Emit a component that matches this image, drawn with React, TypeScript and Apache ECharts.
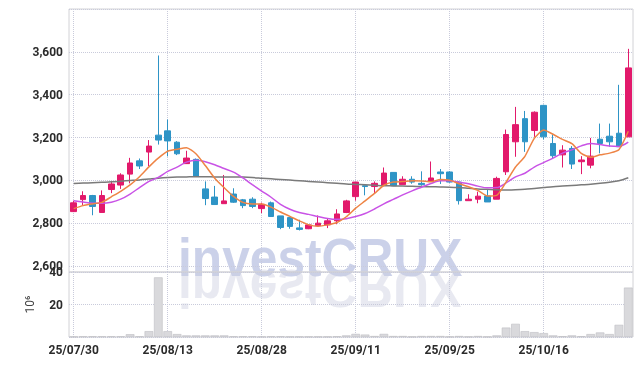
import React, { useEffect, useRef } from 'react';
import * as echarts from 'echarts';

const dates = [
  '25/07/30','25/07/31','25/08/01','25/08/04','25/08/05','25/08/06','25/08/07','25/08/08','25/08/11','25/08/12',
  '25/08/13','25/08/14','25/08/18','25/08/19','25/08/20','25/08/21','25/08/22','25/08/25','25/08/26','25/08/27',
  '25/08/28','25/08/29','25/09/01','25/09/02','25/09/03','25/09/04','25/09/05','25/09/08','25/09/09','25/09/10',
  '25/09/11','25/09/12','25/09/15','25/09/16','25/09/17','25/09/18','25/09/19','25/09/22','25/09/23','25/09/24',
  '25/09/25','25/09/26','25/09/29','25/09/30','25/10/01','25/10/02','25/10/10','25/10/13','25/10/14','25/10/15',
  '25/10/16','25/10/17','25/10/20','25/10/21','25/10/22','25/10/23','25/10/24','25/10/27','25/10/28','25/10/29',
];

const opens = [
  2854, 2910, 2929, 2850, 2957, 2978, 3029, 3091, 3132, 3211,
  3231, 3178, 3078, 3098, 2960, 2922, 2891, 2936, 2909, 2912,
  2868, 2895, 2834, 2826, 2778, 2774, 2788, 2792, 2811, 2850,
  2924, 2975, 2971, 2978, 3037, 2980, 3005, 2986, 2995, 3039,
  3039, 2992, 2905, 2912, 2927, 2912, 3040, 3180, 3288, 3233,
  3350, 3172, 3119, 3149, 3087, 3071, 3192, 3206, 3220, 3203,
];
const closes = [
  2895, 2929, 2878, 2929, 2983, 3025, 3081, 3067, 3160, 3188,
  3184, 3124, 3104, 3020, 2915, 2887, 2904, 2898, 2882, 2878,
  2888, 2831, 2780, 2785, 2771, 2792, 2800, 2811, 2843, 2904,
  2992, 2971, 2986, 3034, 2975, 3005, 2992, 2980, 3011, 3031,
  2992, 2905, 2912, 2926, 2899, 3009, 3214, 3260, 3180, 3318,
  3203, 3115, 3141, 3076, 3095, 3113, 3172, 3180, 3157, 3525,
];
const lows = [
  2852, 2885, 2837, 2850, 2940, 2960, 2986, 3053, 3067, 3167,
  3112, 3118, 3078, 3017, 2884, 2887, 2891, 2895, 2870, 2870,
  2847, 2831, 2772, 2774, 2766, 2772, 2784, 2777, 2795, 2847,
  2905, 2930, 2940, 2978, 2975, 2980, 2984, 2975, 2995, 2983,
  2989, 2887, 2905, 2893, 2899, 2912, 3025, 3110, 3133, 3203,
  3191, 3102, 3060, 3053, 3029, 3056, 3126, 3157, 3157, 3203,
];
const highs = [
  2905, 2949, 2932, 2953, 2994, 3033, 3105, 3102, 3188, 3583,
  3284, 3183, 3138, 3102, 2995, 2974, 3025, 2963, 2913, 2921,
  2896, 2901, 2834, 2828, 2816, 2795, 2836, 2820, 2865, 2909,
  2992, 2975, 2995, 3060, 3037, 3019, 3019, 3042, 3088, 3053,
  3042, 2995, 2935, 2947, 2955, 3017, 3237, 3343, 3324, 3322,
  3353, 3214, 3164, 3160, 3113, 3198, 3265, 3265, 3446, 3614,
];

const ma5 = [
  2868, 2882, 2890, 2897, 2923, 2949, 2979, 3017, 3063, 3104,
  3136, 3145, 3152, 3124, 3069, 3010, 2966, 2925, 2897, 2890,
  2890, 2875, 2852, 2832, 2811, 2792, 2786, 2792, 2803, 2830,
  2870, 2904, 2939, 2977, 2992, 2994, 2998, 2997, 2993, 3004,
  3001, 2984, 2970, 2953, 2927, 2930, 2992, 3062, 3112, 3196,
  3235, 3215, 3191, 3171, 3126, 3108, 3119, 3127, 3143, 3229,
];
const ma10 = [
  2905, 2899, 2893, 2893, 2898, 2912, 2936, 2966, 2995, 3014,
  3042, 3062, 3085, 3094, 3087, 3073, 3055, 3038, 3011, 2980,
  2950, 2921, 2888, 2865, 2850, 2841, 2831, 2822, 2818, 2821,
  2831, 2845, 2866, 2890, 2911, 2932, 2951, 2968, 2985, 2998,
  2998, 2991, 2984, 2973, 2965, 2966, 2988, 3016, 3033, 3062,
  3083, 3104, 3127, 3142, 3161, 3172, 3167, 3160, 3158, 3178,
];
const maLong = [
  2985, 2987, 2989, 2991, 2993, 2996, 2999, 3002, 3006, 3010,
  3013, 3015, 3016, 3017, 3017, 3016, 3016, 3016, 3015, 3013,
  3010, 3007, 3004, 3001, 2998, 2995, 2992, 2989, 2986, 2983,
  2981, 2979, 2977, 2975, 2974, 2973, 2972, 2971, 2970, 2969,
  2968, 2966, 2963, 2960, 2958, 2956, 2955, 2956, 2958, 2962,
  2966, 2970, 2973, 2976, 2979, 2982, 2986, 2991, 2998, 3012,
];

const volumes = [
  0.2, 0.4, 0.4, 0.4, 0.4, 0.4, 1.7, 0.4, 3.6, 36.7,
  3.6, 1.8, 1.0, 1.0, 1.0, 1.0, 1.0, 0.4, 0.4, 0.4,
  0.2, 0.4, 0.4, 0.2, 0.2, 0.2, 0.2, 0.2, 0.4, 1.0,
  1.9, 1.5, 0.6, 1.9, 0.6, 0.6, 0.2, 0.6, 0.6, 0.6,
  0.2, 0.6, 0.2, 0.6, 0.2, 1.0, 5.8, 8.1, 3.6, 3.0,
  2.4, 1.0, 0.5, 1.0, 0.5, 1.8, 2.8, 1.8, 7.5, 30.4,
];

const priceMin = 2572;
const priceMax = 3800;
const volMax = 40;

const UP = '#e2196b';
const DOWN = '#2e94c6';
const GRIDC = '#c9cbdb';

export default function App() {
  const ref = useRef<HTMLDivElement>(null);
  useEffect(() => {
    const chart = echarts.init(ref.current!, null, { renderer: 'svg' });
    const candles = dates.map((_, i) => [opens[i], closes[i], lows[i], highs[i]]);
    const vLines = dates.filter((_, i) => i % 10 === 0).map((d) => ({ xAxis: d }));
    const markLine = {
      symbol: ['none', 'none'],
      silent: true,
      label: { show: false },
      lineStyle: { type: 'dotted', color: GRIDC, width: 1 },
      data: vLines,
      z: 0,
    };
    const labelFont = { color: '#2b2b2b', fontWeight: 'bold', fontSize: 12, fontFamily: 'Roboto, sans-serif' };
    const wmFont = 'bold 54px "Liberation Sans", Arial, sans-serif';
    chart.setOption({
      animation: false,
      grid: [
        { left: 69, right: 10, top: 9, height: 263, show: true, borderColor: '#d2d2d6', borderWidth: 1 },
        { left: 69, right: 10, top: 272, height: 65, show: true, borderColor: '#d2d2d6', borderWidth: 1 },
      ],
      graphic: [
        {
          type: 'text', x: 178, y: 284, scaleX: 0.92, z: -10,
          style: { text: 'investCRUX', font: wmFont, fill: 'rgba(190,198,228,0.8)', verticalAlign: 'bottom' },
        },
        {
          type: 'text', x: 178, y: 262, scaleX: 0.92, scaleY: -1, z: -10,
          style: { text: 'investCRUX', font: wmFont, fill: 'rgba(205,207,225,0.45)', verticalAlign: 'bottom' },
        },
      ],
      xAxis: [
        {
          type: 'category', data: dates, gridIndex: 0, boundaryGap: true,
          axisLine: { show: false }, axisTick: { show: false }, axisLabel: { show: false }, splitLine: { show: false },
        },
        {
          type: 'category', data: dates, gridIndex: 1, boundaryGap: true,
          axisLine: { show: false }, axisTick: { show: false }, splitLine: { show: false },
          axisLabel: { ...labelFont, interval: 9, margin: 7 },
        },
      ],
      yAxis: [
        {
          type: 'value', gridIndex: 0, min: priceMin, max: priceMax, splitNumber: 6, scale: true,
          axisLine: { show: false }, axisTick: { show: false },
          axisLabel: {
            ...labelFont, margin: 6, showMinLabel: false, showMaxLabel: false,
            formatter: (v: number) => v.toLocaleString('en-US'),
          },
          splitLine: { lineStyle: { type: 'dotted', color: GRIDC } },
        },
        {
          type: 'value', gridIndex: 1, min: 0, max: volMax, interval: 20,
          name: '10⁶', nameLocation: 'middle', nameRotate: 90, nameGap: 33,
          nameTextStyle: { color: '#444', fontSize: 12, fontFamily: 'Roboto, sans-serif' },
          axisLine: { show: false }, axisTick: { show: false },
          axisLabel: { ...labelFont, margin: 6, showMinLabel: false },
          splitLine: { lineStyle: { type: 'dotted', color: GRIDC } },
        },
      ],
      series: [
        {
          type: 'candlestick', xAxisIndex: 0, yAxisIndex: 0, data: candles, barWidth: 6,
          itemStyle: { color: UP, color0: DOWN, borderColor: UP, borderColor0: DOWN, borderWidth: 1 },
          markLine,
        },
        {
          type: 'line', xAxisIndex: 0, yAxisIndex: 0, data: maLong, showSymbol: false, smooth: 0.3,
          lineStyle: { color: '#7a7a7a', width: 1.5 },
        },
        {
          type: 'line', xAxisIndex: 0, yAxisIndex: 0, data: ma10, showSymbol: false, smooth: 0.3,
          lineStyle: { color: '#c953e6', width: 1.5 },
        },
        {
          type: 'line', xAxisIndex: 0, yAxisIndex: 0, data: ma5, showSymbol: false, smooth: 0.2,
          lineStyle: { color: '#ee8445', width: 1.5 },
        },
        {
          type: 'bar', xAxisIndex: 1, yAxisIndex: 1, data: volumes, barCategoryGap: '8%',
          itemStyle: { color: '#d9d9dc', borderColor: '#bdbdc2', borderWidth: 0.6 },
          markLine,
        },
      ],
    });
    return () => chart.dispose();
  }, []);
  return <div ref={ref} style={{ position: 'fixed', left: 0, top: 0, width: 643, height: 366 }} />;
}
